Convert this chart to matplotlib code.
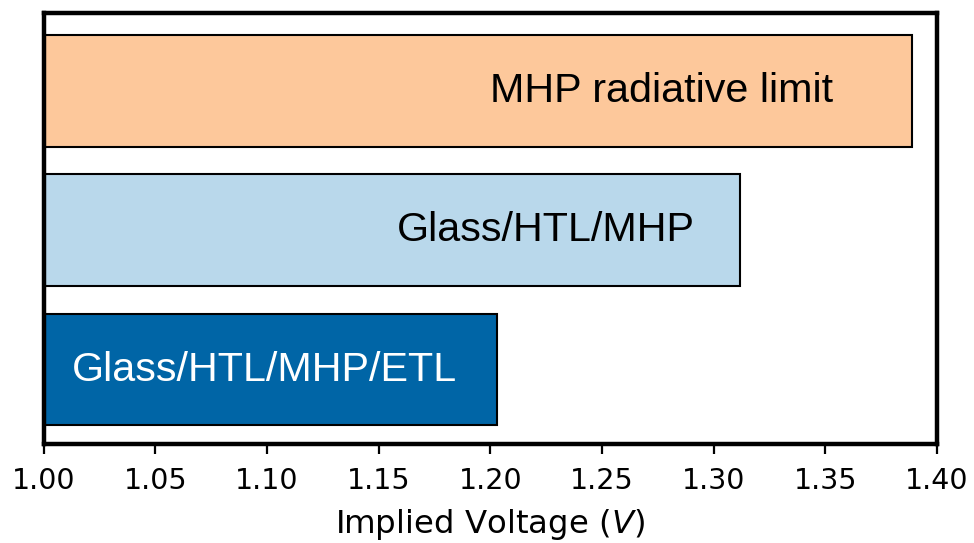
import matplotlib
matplotlib.use("Agg")
import matplotlib.pyplot as plt

# Implied voltage for each stack (V)
stacks = ["Glass/HTL/MHP/ETL", "Glass/HTL/MHP", "MHP radiative limit"]
voltages = [1.203, 1.312, 1.389]
colors = ["#0065A6", "#B9D8EB", "#FDC89B"]
text_colors = ["white", "black", "black"]
label_x = [1.099, 1.225, 1.2765]
xticks = [1.00, 1.05, 1.10, 1.15, 1.20, 1.25, 1.30, 1.35, 1.40]

W, H = 974, 543
fig = plt.figure(figsize=(W / 100, H / 100), dpi=100)
ax = fig.add_axes([43.7 / W, (H - 444.0) / H, (937 - 43.7) / W, (444.0 - 12.5) / H])

ypos = list(range(len(stacks)))
ax.barh(ypos, [v - 1.0 for v in voltages], left=1.0, height=0.8,
        color=colors, edgecolor="black", linewidth=1.5)

for y, name, x, tc in zip(ypos, stacks, label_x, text_colors):
    ax.text(x, y, name, ha="center", va="center", color=tc,
            fontsize=29.7, family="Liberation Sans")

ax.set_xlim(1.0, 1.4)
ax.set_ylim(-0.534, 2.562)
ax.set_xticks(xticks)
ax.set_xticklabels([f"{t:.2f}" for t in xticks])
ax.set_yticks([])
ax.tick_params(axis="x", labelsize=20.5, length=7, width=1.6, pad=9.5)
for s in ax.spines.values():
    s.set_linewidth(3.2)
ax.set_xlabel("Implied Voltage ($V$)", fontsize=23.3, labelpad=8.5)

fig.savefig("out.png", dpi=100)
